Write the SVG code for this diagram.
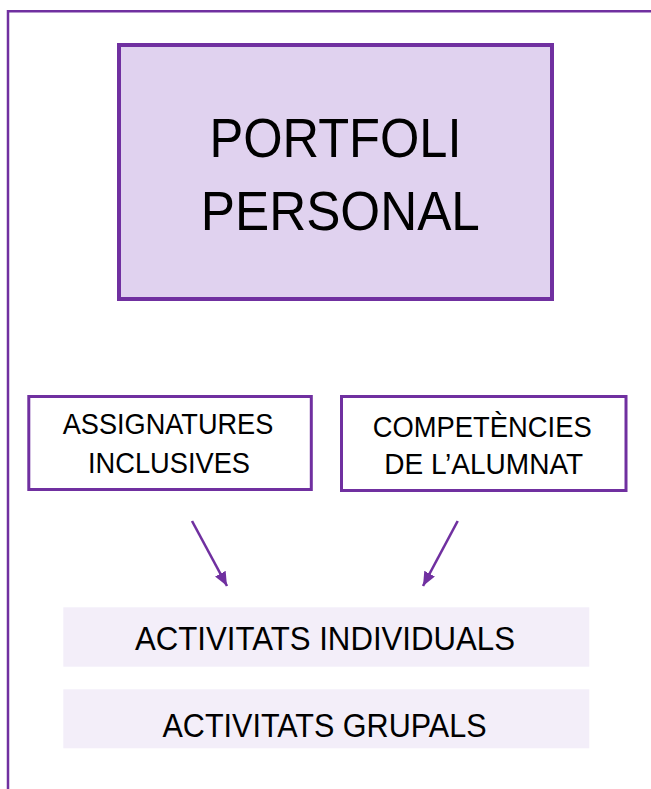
<svg xmlns="http://www.w3.org/2000/svg" width="651" height="789" viewBox="0 0 651 789">
<style>
  text { font-family: "Liberation Sans", Arial, sans-serif; fill: #000; text-anchor: middle; }
  .big { font-size: 56px; }
  .mid { font-size: 29px; }
  .bar { font-size: 32.5px; }
  .box { fill: #fff; stroke: #7030A0; stroke-width: 3; }
  .conn { stroke: #7030A0; stroke-width: 2.6; fill: none; }
</style>
<defs>
  <marker id="ah" markerUnits="userSpaceOnUse" markerWidth="16" markerHeight="14" refX="14" refY="6" orient="auto">
    <path d="M0,0 L14,6 L0,12 Z" fill="#7030A0"/>
  </marker>
</defs>
<rect x="0" y="0" width="651" height="789" fill="#fff"/>
<path d="M8,789 V11.2 H651" fill="none" stroke="#7030A0" stroke-width="2.5"/>

<g id="portfoli">
  <rect x="119" y="45" width="433" height="254" fill="#E0D2EF" stroke="#7030A0" stroke-width="4"/>
  <text class="big" x="335.5" y="157.3" textLength="252" lengthAdjust="spacingAndGlyphs">PORTFOLI</text>
  <text class="big" x="340.3" y="230" textLength="279" lengthAdjust="spacingAndGlyphs">PERSONAL</text>
</g>

<g id="assignatures">
  <rect class="box" x="28.8" y="396.5" width="282.5" height="93"/>
  <text class="mid" x="168" y="434.3" textLength="210.6" lengthAdjust="spacingAndGlyphs">ASSIGNATURES</text>
  <text class="mid" x="169" y="473.3" textLength="162" lengthAdjust="spacingAndGlyphs">INCLUSIVES</text>
</g>

<g id="competencies">
  <rect class="box" x="341.5" y="396.5" width="284.5" height="94"/>
  <text class="mid" x="482.2" y="436.5" textLength="219" lengthAdjust="spacingAndGlyphs">COMPETÈNCIES</text>
  <text class="mid" x="483.7" y="474.3" textLength="199" lengthAdjust="spacingAndGlyphs">DE L’ALUMNAT</text>
</g>

<g id="individuals">
  <rect x="63.3" y="607.3" width="526" height="59.4" fill="#F3EEF9"/>
  <text class="bar" x="325" y="650" textLength="380" lengthAdjust="spacingAndGlyphs">ACTIVITATS INDIVIDUALS</text>
</g>

<g id="grupals">
  <rect x="63.3" y="689.3" width="526" height="59" fill="#F3EEF9"/>
  <text class="bar" x="324.5" y="736.7" textLength="324" lengthAdjust="spacingAndGlyphs">ACTIVITATS GRUPALS</text>
</g>

<g id="connectors">
  <line class="conn" x1="192" y1="521" x2="227" y2="586" marker-end="url(#ah)"/>
  <line class="conn" x1="457.7" y1="521" x2="423" y2="586" marker-end="url(#ah)"/>
</g>
</svg>
